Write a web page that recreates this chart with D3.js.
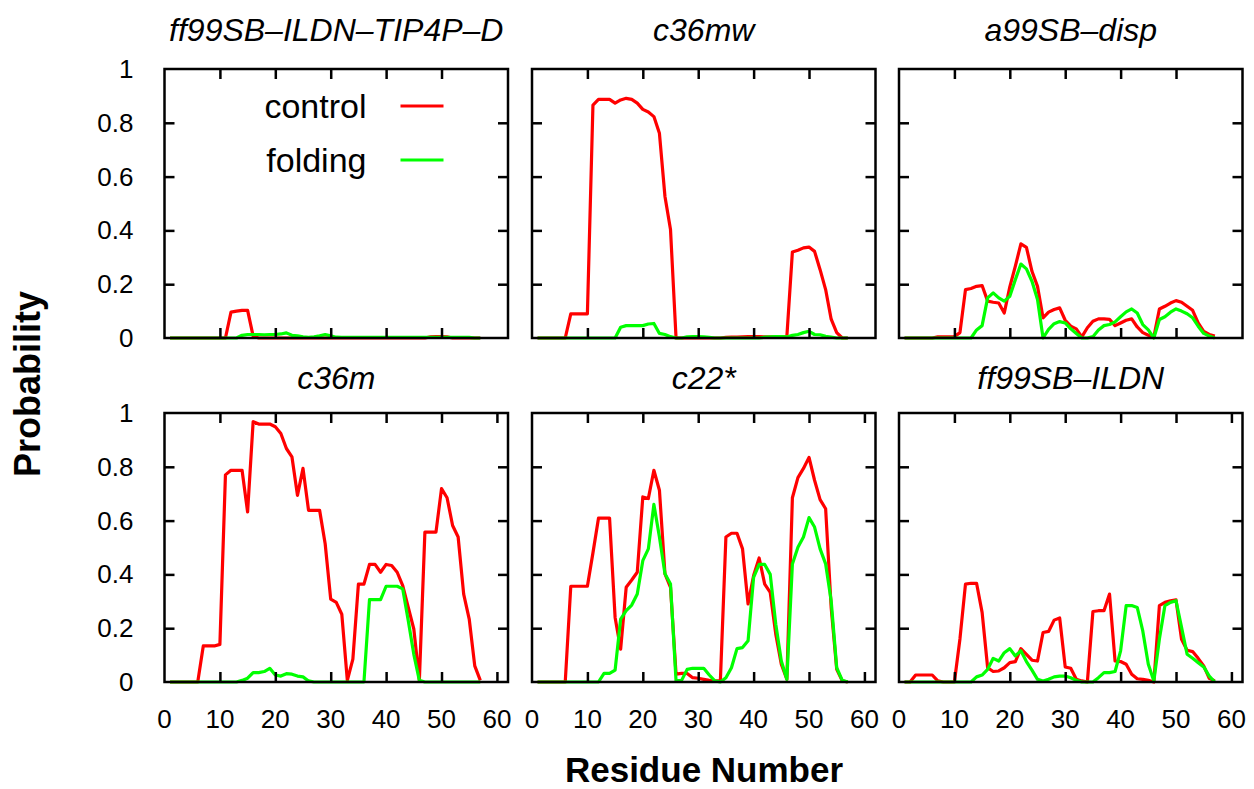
<!DOCTYPE html>
<html>
<head>
<meta charset="utf-8">
<script src="https://cdn.jsdelivr.net/npm/d3@7"></script>
<style>
  body { margin: 0; background: #fff; }
  text { font-family: "Liberation Sans", Arial, sans-serif; fill: #000; }
</style>
</head>
<body>
<svg id="chart" width="1254" height="789"></svg>
<script>
// residue index 1..57
const residues = d3.range(1, 58);

const titles = ["ff99SB\u2013ILDN\u2013TIP4P\u2013D", "c36mw", "a99SB\u2013disp", "c36m", "c22*", "ff99SB\u2013ILDN"];
const seriesNames = ["control", "folding"];
const yTicks = [0, 0.2, 0.4, 0.6, 0.8, 1];
const xTickLabels = [0, 10, 20, 30, 40, 50, 60];

// ff99SB-ILDN-TIP4P-D
const control1 = [0,0,0,0,0,0,0,0,0,0, 0,0.096,0.10,0.103,0.103,0.007,0,0,0,0, 0,0,0,0,0,0,0,0,0,0,
  0,0,0,0,0,0,0,0,0,0, 0,0,0,0,0,0,0,0.004,0.005,0.005, 0.004,0,0,0,0,0,0];
const folding1 = [0,0,0,0,0,0,0,0,0,0, 0,0,0,0.01,0.013,0.013,0.013,0.012,0.013,0.013,
  0.015,0.019,0.01,0.008,0.004,0.002,0.004,0.008,0.013,0.008, 0.003,0.002,0.002,0.002,0.002,0.002,0.002,0.002,0.002,0.002,
  0.002,0.002,0.002,0.002,0.002,0.002,0.002,0.002,0.002,0.002, 0.002,0.002,0.002,0.002,0.002,0,0];
// c36mw
const control2 = [0,0,0,0,0,0,0.09,0.09,0.09,0.09, 0.866,0.887,0.887,0.887,0.873,0.885,0.891,0.887,0.873,0.85,
  0.84,0.823,0.761,0.526,0.403,0,0,0,0,0, 0,0,0,0,0.002,0.003,0.003,0.004,0.005,0.005,
  0.005,0.004,0.004,0.004,0.004,0.005,0.32,0.326,0.335,0.338, 0.322,0.254,0.18,0.07,0.02,0,0];
const folding2 = [0,0,0,0,0,0,0,0,0,0, 0,0,0,0,0,0.04,0.046,0.046,0.046,0.046,
  0.052,0.054,0.017,0.013,0.005,0,0,0.004,0.005,0.005, 0.004,0.002,0,0,0,0,0,0,0,0,
  0,0.003,0.004,0.005,0.005,0.004,0.01,0.013,0.02,0.025, 0.013,0.012,0.006,0.003,0,0,0];
// a99SB-disp
const control3 = [0,0,0,0,0,0,0.004,0.004,0.004,0.005, 0.02,0.18,0.184,0.192,0.195,0.137,0.133,0.13,0.093,0.19,
  0.267,0.35,0.337,0.248,0.192,0.075,0.096,0.106,0.112,0.066, 0.044,0.034,0.004,0.038,0.062,0.071,0.071,0.069,0.046,0.056,
  0.066,0.071,0.041,0.02,0.01,0.004,0.108,0.118,0.13,0.139, 0.133,0.118,0.103,0.056,0.025,0.013,0.007];
const folding3 = [0,0,0,0,0,0,0,0,0,0, 0,0,0,0.03,0.046,0.149,0.168,0.149,0.137,0.155,
  0.217,0.275,0.257,0.211,0.143,0,0.032,0.053,0.061,0.056, 0.034,0.017,0,0,0.005,0.03,0.046,0.05,0.06,0.079,
  0.097,0.108,0.093,0.05,0.03,0,0.069,0.079,0.096,0.108, 0.1,0.09,0.075,0.044,0.017,0.007,0];
// c36m
const control4 = [0,0,0,0,0,0,0.134,0.134,0.134,0.14, 0.77,0.787,0.787,0.787,0.632,0.968,0.959,0.959,0.959,0.949,
  0.924,0.868,0.837,0.694,0.794,0.638,0.638,0.638,0.514,0.308, 0.296,0.252,0.006,0.085,0.364,0.364,0.437,0.437,0.408,0.437,
  0.433,0.408,0.358,0.277,0.197,0.006,0.557,0.557,0.557,0.719, 0.685,0.582,0.539,0.327,0.234,0.06,0.006];
const folding4 = [0,0,0,0,0,0,0,0,0,0, 0,0,0,0.006,0.014,0.035,0.035,0.039,0.051,0.026,
  0.022,0.031,0.029,0.022,0.019,0.004,0,0,0,0, 0,0,0,0,0,0,0.306,0.306,0.306,0.356,
  0.356,0.356,0.346,0.228,0.103,0.006,0,0,0,0, 0,0,0,0,0,0,0];
// c22*
const control5 = [0,0,0,0,0,0,0.356,0.356,0.356,0.356, 0.48,0.609,0.609,0.609,0.24,0.122,0.352,0.379,0.408,0.688,
  0.682,0.787,0.713,0.402,0.352,0.029,0.032,0.032,0.016,0.014, 0.01,0.006,0.004,0.004,0.539,0.553,0.553,0.495,0.29,0.396,
  0.461,0.364,0.333,0.178,0.066,0.01,0.685,0.76,0.794,0.835, 0.75,0.678,0.644,0.277,0.047,0.004,0];
const folding5 = [0,0,0,0,0,0,0,0,0,0, 0,0,0.032,0.032,0.044,0.234,0.265,0.286,0.327,0.451,
  0.495,0.66,0.539,0.402,0.364,0.004,0.006,0.047,0.051,0.051, 0.051,0.026,0.004,0,0.016,0.053,0.124,0.128,0.153,0.389,
  0.437,0.437,0.4,0.215,0.078,0.01,0.439,0.501,0.539,0.611, 0.576,0.495,0.439,0.302,0.053,0.006,0];
// ff99SB-ILDN
const control6 = [0,0,0.026,0.026,0.026,0.026,0.004,0,0,0, 0.16,0.364,0.367,0.367,0.259,0.053,0.039,0.041,0.053,0.072,
  0.076,0.124,0.103,0.081,0.078,0.184,0.188,0.23,0.238,0.056, 0.051,0.01,0.004,0,0.262,0.265,0.265,0.327,0.078,0.076,
  0.066,0.029,0.012,0.01,0.006,0,0.284,0.296,0.302,0.305, 0.159,0.118,0.113,0.088,0.06,0.014,0.004];
const folding6 = [0,0,0,0,0,0,0,0,0,0, 0,0,0,0.019,0.026,0.047,0.088,0.078,0.109,0.124,
  0.097,0.116,0.076,0.044,0.01,0.004,0.01,0.019,0.022,0.022, 0.016,0.006,0,0,0,0.016,0.035,0.035,0.039,0.116,
  0.284,0.284,0.277,0.19,0.066,0.004,0.16,0.284,0.296,0.302, 0.203,0.103,0.088,0.072,0.056,0.022,0];

const controls = [control1, control2, control3, control4, control5, control6];
const foldings = [folding1, folding2, folding3, folding4, folding5, folding6];
const colors = { control: "#ff0000", folding: "#00ff00" };

// panel layout
const lefts = [164.5, 532, 899], pw = 343.5;
const tops = [69, 413], ph = 269;

const svg = d3.select("#chart");

const x = d3.scaleLinear().domain([0, 62]).range([0, pw]);
const y = d3.scaleLinear().domain([0, 1]).range([ph, 0]);

const line = d3.line()
    .x((d, i) => x(residues[i]))
    .y(d => y(d));

for (let p = 0; p < 6; p++) {
    const col = p % 3, row = Math.floor(p / 3);
    const g = svg.append("g")
        .attr("transform", `translate(${lefts[col]},${tops[row]})`);

    // series
    [controls[p], foldings[p]].forEach((vals, k) => {
        g.append("path")
            .attr("d", line(vals))
            .attr("fill", "none")
            .attr("stroke", colors[seriesNames[k]])
            .attr("stroke-width", 3.2)
            .attr("stroke-linejoin", "round");
    });

    // inward ticks on all four sides
    const xt = row === 0 ? [10, 20, 30, 40, 50] : [10, 20, 30, 40, 50, 60];
    const yt = [0.2, 0.4, 0.6, 0.8];
    const axes = [
        [d3.axisBottom(x).tickValues(xt), `translate(0,${ph})`],
        [d3.axisTop(x).tickValues(xt), null],
        [d3.axisLeft(y).tickValues(yt), null],
        [d3.axisRight(y).tickValues(yt), `translate(${pw},0)`]
    ];
    axes.forEach(([ax, tr]) => {
        const a = g.append("g").call(ax.tickSize(-10).tickFormat(""));
        if (tr) a.attr("transform", tr);
        a.select(".domain").remove();
        a.selectAll("line").attr("stroke", "#000").attr("stroke-width", 2.5);
    });

    g.append("rect")
        .attr("width", pw).attr("height", ph)
        .attr("fill", "none").attr("stroke", "#000").attr("stroke-width", 2.5);

    // title
    g.append("text")
        .attr("x", pw / 2).attr("y", row === 0 ? -28 : -24)
        .attr("text-anchor", "middle")
        .attr("font-style", "italic")
        .attr("font-size", 32)
        .text(titles[p]);

    // y tick labels on the left column
    if (col === 0) {
        g.selectAll(".ylab").data(yTicks).enter().append("text")
            .attr("x", -31).attr("y", d => y(d) + 9)
            .attr("text-anchor", "end")
            .attr("font-size", 26)
            .text(d => d3.format("~g")(d));
    }

    // x tick labels under bottom row
    if (row === 1) {
        g.selectAll(".xlab").data(xTickLabels).enter().append("text")
            .attr("x", d => x(d)).attr("y", ph + 46)
            .attr("text-anchor", "middle")
            .attr("font-size", 26)
            .text(d => d);
    }

    // legend in the first panel
    if (p === 0) {
        seriesNames.forEach((name, k) => {
            const ly = 37 + k * 54;
            g.append("text")
                .attr("x", 202).attr("y", ly + 12)
                .attr("text-anchor", "end")
                .attr("font-size", 34)
                .text(name);
            g.append("line")
                .attr("x1", 236).attr("x2", 279)
                .attr("y1", ly).attr("y2", ly)
                .attr("stroke", colors[name]).attr("stroke-width", 3.2);
        });
    }
}

// axis titles
svg.append("text")
    .attr("transform", "translate(40,384) rotate(-90)")
    .attr("text-anchor", "middle")
    .attr("font-weight", "bold")
    .attr("font-size", 36)
    .text("Probability");

svg.append("text")
    .attr("x", 704).attr("y", 782)
    .attr("text-anchor", "middle")
    .attr("font-weight", "bold")
    .attr("font-size", 35)
    .text("Residue Number");
</script>
</body>
</html>
